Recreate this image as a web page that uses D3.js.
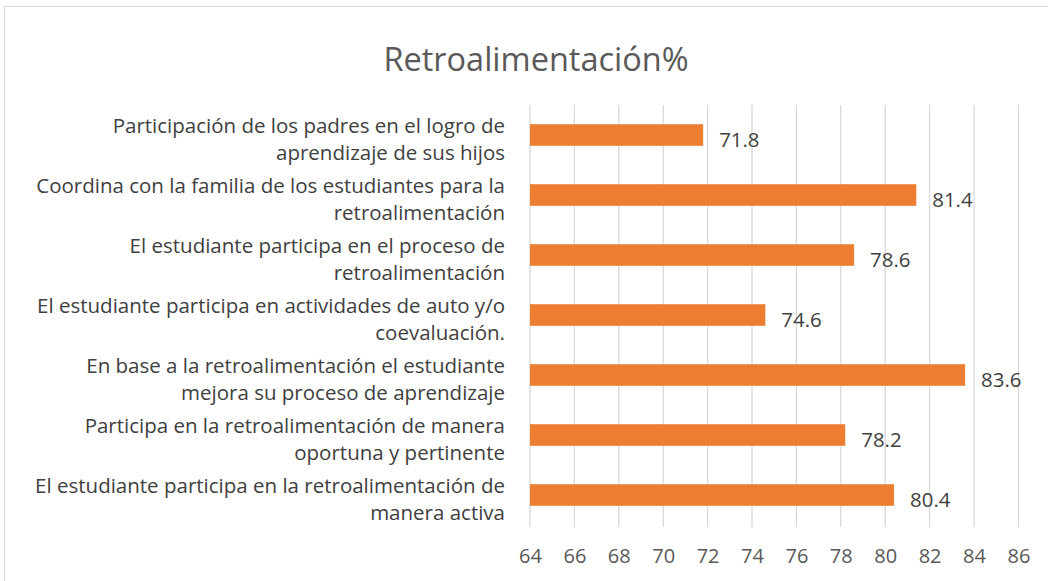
<!DOCTYPE html>
<html>
<head>
<meta charset="utf-8">
<script src="https://cdn.jsdelivr.net/npm/d3@7"></script>
<style>
  body { margin: 0; background: #fff; }
  text { font-family: "Open Sans", sans-serif; }
</style>
</head>
<body>
<svg width="1048" height="581"></svg>
<script>
// categories top to bottom, each split into its two lines
var categories = [
    ["Participación de los padres en el logro de", "aprendizaje de sus hijos"],
    ["Coordina con la familia de los estudiantes para la", "retroalimentación"],
    ["El estudiante participa en el proceso de", "retroalimentación"],
    ["El estudiante participa en actividades de auto y/o", "coevaluación."],
    ["En base a la retroalimentación el estudiante", "mejora su proceso de aprendizaje"],
    ["Participa en la retroalimentación de manera", "oportuna y pertinente"],
    ["El estudiante participa en la retroalimentación de", "manera activa"]
];
var values = [71.8, 81.4, 78.6, 74.6, 83.6, 78.2, 80.4];
var xTicks = [64, 66, 68, 70, 72, 74, 76, 78, 80, 82, 84, 86];

var margin = {top: 105, left: 530, right: 30, bottom: 56},
    width = 1048,
    height = 581;

var svg = d3.select("svg");

// chart border
svg.append("rect")
    .attr("x", 4.5).attr("y", 6.5)
    .attr("width", 1060).attr("height", 600)
    .attr("fill", "none").attr("stroke", "#d9d9d9");

var xScale = d3.scaleLinear()
    .domain([64, 86])
    .range([margin.left, 1018.4]);

var yScale = d3.scaleBand()
    .domain(d3.range(values.length))
    .range([margin.top, 525])
    .paddingInner(0.64)
    .paddingOuter(0.32);

// gridlines
svg.append("g")
    .selectAll("line")
    .data(xTicks).enter().append("line")
    .attr("x1", function (d) { return xScale(d); })
    .attr("x2", function (d) { return xScale(d); })
    .attr("y1", margin.top)
    .attr("y2", 527)
    .attr("stroke", "#d9d9d9")
    .attr("stroke-width", 1.3);

// bars
svg.append("g")
    .selectAll("rect")
    .data(values).enter().append("rect")
    .attr("x", xScale(64))
    .attr("y", function (d, i) { return yScale(i); })
    .attr("width", function (d) { return xScale(d) - xScale(64); })
    .attr("height", yScale.bandwidth())
    .attr("fill", "#ED7D31");

// value labels
svg.append("g")
    .selectAll("text")
    .data(values).enter().append("text")
    .attr("x", function (d) { return xScale(d) + 16; })
    .attr("y", function (d, i) { return yScale(i) + yScale.bandwidth() / 2 + 12; })
    .attr("font-size", 20.4)
    .attr("fill", "#404040")
    .text(function (d) { return d.toFixed(1); });

// x axis tick labels
var xAxis = svg.append("g")
    .attr("transform", "translate(0," + 528 + ")")
    .call(d3.axisBottom(xScale).tickValues(xTicks).tickSize(0).tickPadding(21));
xAxis.select(".domain").remove();
xAxis.selectAll("text")
    .attr("font-size", 20)
    .attr("font-family", "Open Sans, sans-serif")
    .attr("fill", "#595959");

// category labels
var cat = svg.append("g")
    .selectAll("text")
    .data(categories).enter().append("text")
    .attr("text-anchor", "end")
    .attr("font-size", 20.5)
    .attr("fill", "#404040");
cat.each(function (d, i) {
    var t = d3.select(this);
    var yc = yScale(i) + yScale.bandwidth() / 2;
    d.forEach(function (line, j) {
        t.append("tspan")
            .attr("x", 505)
            .attr("y", yc - 2 + j * 27)
            .text(line);
    });
});

// title
svg.append("text")
    .attr("x", 536)
    .attr("y", 71)
    .attr("text-anchor", "middle")
    .attr("font-size", 32.5)
    .attr("fill", "#595959")
    .text("Retroalimentación%");
</script>
</body>
</html>
